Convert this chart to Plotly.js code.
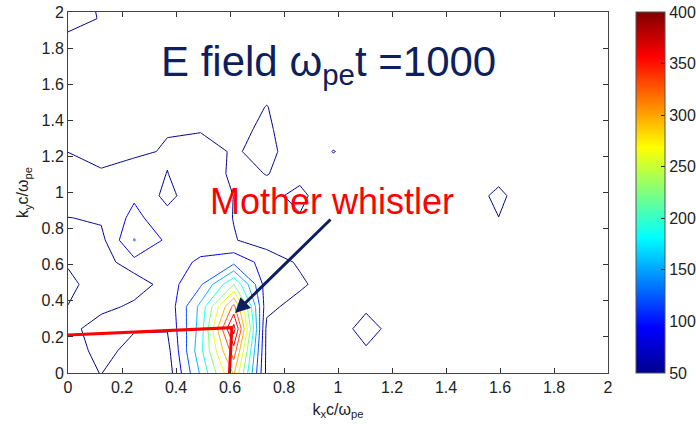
<!DOCTYPE html>
<html>
<head>
<meta charset="utf-8">
<script src="https://cdn.plot.ly/plotly-3.0.1.min.js"></script>
<style>html,body{margin:0;padding:0;background:#fff}#chart{width:696px;height:429px}</style>
</head>
<body>
<div id="chart"></div>
<script>
// grid of wavenumbers (k c / omega_pe)
var kx = [0, 0.123, 0.245, 0.368, 0.491, 0.614, 0.736, 0.859, 0.982, 1.104, 1.227, 1.350, 1.473, 1.595, 1.718, 1.841, 1.963, 2.086];
var ky = [0, 0.123, 0.245, 0.368, 0.491, 0.614, 0.736, 0.859, 0.982, 1.104, 1.227, 1.350, 1.473, 1.595, 1.718, 1.841, 1.963, 2.086];
// E-field spectral amplitude, rows = ky, columns = kx
var eField = [
  [35, 51, 20, 30, 160, 300, 40, 28, 25, 30, 30, 30, 30, 30, 30, 30, 30, 30],
  [15, 72, 28, 38, 180, 350, 40, 28, 30, 45.5, 30, 30, 30, 30, 30, 30, 30, 30],
  [30, 80, 55, 52, 170, 415, 40, 30, 28, 65, 32, 30, 30, 30, 30, 30, 30, 30],
  [49.2, 34, 60, 60, 165, 340, 60, 35, 30, 43.6, 30, 30, 30, 30, 30, 30, 30, 30],
  [60, 30, 25, 69, 115, 225, 65, 56.5, 30, 30, 30, 30, 30, 30, 30, 30, 30, 30],
  [46, 30, 75, 70, 90, 110, 70, 45, 30, 30, 30, 30, 30, 30, 30, 30, 30, 30],
  [40, 40, 122, 78, 70, 52, 35, 30, 30, 30, 30, 30, 30, 30, 30, 30, 30, 30],
  [49, 55, 95, 62, 75, 49, 30, 47, 30, 30, 30, 30, 30, 49.5, 30, 30, 30, 30],
  [82, 70, 80, 40, 75, 49.5, 39, 60, 20, 30, 30, 30, 27, 60, 20, 30, 30, 30],
  [80, 55, 74.5, 49, 82, 40, 51, 38.7, 30, 30, 30, 30, 30, 35.6, 30, 30, 30, 30],
  [49, 35, 40, 55, 78, 43, 70, 10, 51.5, 30, 30, 30, 30, 30, 30, 30, 30, 30],
  [40, 35, 38, 47, 45, 36, 60, 10, 30, 30, 30, 30, 30, 30, 30, 30, 30, 30],
  [30, 30, 30, 30, 30, 20, 52, 10, 30, 30, 30, 30, 30, 30, 30, 30, 30, 30],
  [30, 30, 30, 30, 30, 30, 30, 30, 30, 30, 30, 30, 30, 30, 30, 30, 30, 30],
  [30, 30, 30, 30, 30, 30, 30, 30, 30, 30, 30, 30, 30, 30, 30, 30, 30, 30],
  [40, 30, 30, 30, 30, 30, 30, 30, 30, 30, 30, 30, 30, 30, 30, 30, 30, 30],
  [65, 47.8, 30, 30, 30, 30, 30, 30, 30, 30, 30, 30, 30, 30, 30, 30, 30, 30],
  [65, 45, 30, 30, 30, 30, 30, 30, 30, 30, 30, 30, 30, 30, 30, 30, 30, 30]
];
var colorbarTicks = [50, 100, 150, 200, 250, 300, 350, 400];
var axisTicks = [0, 0.2, 0.4, 0.6, 0.8, 1, 1.2, 1.4, 1.6, 1.8, 2];
// red marker lines pointing at the mother whistler
var markerX = [0, 0.607, 0.598];
var markerY = [0.21, 0.251, 0];

var jet = [[0,'rgb(0,0,143)'],[0.125,'rgb(0,0,255)'],[0.375,'rgb(0,255,255)'],[0.625,'rgb(255,255,0)'],[0.875,'rgb(255,0,0)'],[1,'rgb(128,0,0)']];
var FONT = 'Arial, "Liberation Sans", sans-serif';

var contour = {
  type: 'contour', x: kx, y: ky, z: eField,
  colorscale: jet, zauto: false, zmin: 50, zmax: 400,
  autocontour: false,
  contours: {start: 50, end: 400, size: 35, coloring: 'lines'},
  line: {width: 1, smoothing: 0},
  showscale: false, hoverinfo: 'skip'
};
var bar = {
  type: 'scatter', mode: 'markers', x: [-5], y: [-5], hoverinfo: 'skip', showlegend: false,
  marker: {color: [50], cmin: 50, cmax: 400, colorscale: jet, showscale: true,
    colorbar: {x: 1.0519, xanchor: 'left', y: 0.5, yanchor: 'middle', len: 1, lenmode: 'fraction',
      thickness: 29, thicknessmode: 'pixels', xpad: 0, ypad: 0,
      outlinecolor: '#555', outlinewidth: 1,
      tickvals: colorbarTicks, ticks: 'inside', ticklen: 4, tickcolor: '#222',
      tickfont: {family: FONT, size: 16, color: '#222'}}}
};
var pointer = {
  type: 'scatter', mode: 'lines', x: markerX, y: markerY,
  line: {color: '#ff0000', width: 3}, hoverinfo: 'skip', showlegend: false
};

var axisCommon = {
  range: [0, 2], tickvals: axisTicks, ticks: 'inside', ticklen: 5, tickcolor: '#333',
  showline: true, linecolor: '#444', linewidth: 1, mirror: 'ticks',
  showgrid: false, zeroline: false, automargin: false,
  tickfont: {family: FONT, size: 16, color: '#222'}
};

var layout = {
  width: 696, height: 429,
  margin: {l: 68, r: 88, t: 12, b: 56, autoexpand: false},
  paper_bgcolor: '#fff', plot_bgcolor: '#fff',
  showlegend: false,
  xaxis: Object.assign({}, axisCommon, {
    title: {text: 'k<sub>x</sub>c/ω<sub>pe</sub>', font: {family: FONT, size: 16, color: '#222'}, standoff: 8}
  }),
  yaxis: Object.assign({}, axisCommon, {
    title: {text: 'k<sub>y</sub>c/ω<sub>pe</sub>', font: {family: FONT, size: 16, color: '#222'}, standoff: 8}
  }),
  annotations: [
    {xref: 'paper', yref: 'paper', x: 0.168, y: 0.855, xanchor: 'left', yanchor: 'middle',
     text: 'E field ω<sub>pe</sub>t =1000', showarrow: false,
     font: {family: FONT, size: 42, color: '#0d1f5c'}},
    {xref: 'paper', yref: 'paper', x: 0.26, y: 0.474, xanchor: 'left', yanchor: 'middle',
     text: 'Mother whistler', showarrow: false,
     font: {family: FONT, size: 36, color: '#ff0000'}},
    {xref: 'x', yref: 'y', x: 0.6185, y: 0.332, ax: 97, ay: -95, text: '',
     showarrow: true, arrowhead: 2, arrowsize: 1, arrowwidth: 3, arrowcolor: '#0d1f5c', standoff: 0}
  ]
};

Plotly.newPlot('chart', [contour, pointer, bar], layout, {displayModeBar: false, staticPlot: true});
</script>
</body>
</html>
